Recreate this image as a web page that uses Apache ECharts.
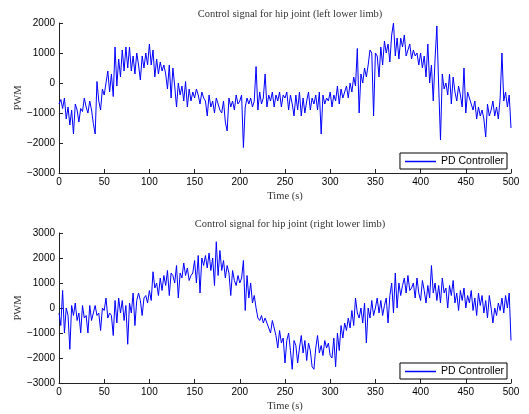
<!DOCTYPE html>
<html>
<head>
<meta charset="utf-8">
<script src="https://cdn.jsdelivr.net/npm/echarts@6/dist/echarts.min.js"></script>
<style>
  html, body { margin: 0; padding: 0; background: #fff; }
  #chart { width: 529px; height: 414px; }
</style>
</head>
<body>
<div id="chart"></div>
<script>
// sample times, every 2 s from 0 to 500
const timeStep = 2;

// left lower limb, hip joint control signal (PWM)
const leftHip = [
  -700, -550, -850, -500, -1200,
  -800, -1400, -900, -1700, -700,
  -900, -1300, -850, -950, -500,
  -800, -1000, -600, -900, -1350,
  -1700, 50, -600, -900, -200,
  -400, 0, 400, -300, 300,
  -450, 1200, -100, 800, 200,
  1100, 400, 1200, 500, 1200,
  400, 900, 300, 1000, 600,
  100, 900, 500, 1000, 600,
  1300, 600, 1100, 200, 800,
  300, 700, 400, 600, 300,
  -200, 600, -500, 500, -100,
  -800, 0, -400, -100, -600,
  50, -800, -200, -600, -300,
  -500, -200, -400, -700, -300,
  -500, -600, -1100, -400, -800,
  -600, -1000, -500, -700, -900,
  -1000, -600, -1300, -1600, -500,
  -800, -600, -900, -400, -700,
  -600, -400, -2150, -800, -500,
  -700, -500, -800, -600, 550,
  -900, -300, -700, -500, 300,
  -800, -400, -600, -300, -800,
  -400, -600, -300, -800, -400,
  -500, -300, -900, -400, -700,
  -1100, -400, -900, -300, -1100,
  -500, -1000, -600, -300, -900,
  -500, -700, -400, -900, -300,
  -1700, -400, -700, -500, -600,
  -300, -800, -400, -600, -100,
  -700, -200, -500, -300, -100,
  -500, 0, -300, 200, -100,
  1150, -1000, 300, 0, 500,
  200, 600, 1100, 1000, -1100,
  1000, 900, 200, 1200, 600,
  1400, 1000, 1300, 700, 1600,
  2000, 900, 1500, 800, 1500,
  1200, 1600, 900, 1100, 1300,
  800, 1100, 900, 1000, 600,
  1000, 500, 900, 200, 1300,
  0, 600, -600, 800, 1900,
  -100, -1900, 300, -200, 0,
  -400, 300, -700, 200, -300,
  -600, -100, -400, -800, 500,
  -1000, -300, -500, -700, -900,
  -600, -1200, -800, -1100, -900,
  -1200, -1800, -700, -1100, -900,
  -600, -1100, -800, -1200, -500,
  1000, -600, -300, -800, -400,
  -1500
];

// right lower limb, hip joint control signal (PWM)
const rightHip = [
  -200, -700, 700, -1000, 0,
  -300, -1650, 100, -300, 200,
  -500, -200, -1000, 100, -400,
  -300, -1000, 100, -500, -200,
  100, -300, -200, -900, 0,
  -100, 400, -400, -200, -300,
  -1100, 300, -600, 400, -200,
  300, -500, 100, -1450, 200,
  -200, 600, -700, 300, 600,
  300, -300, 400, 500, 200,
  700, 300, 1450, 800, 1000,
  500, 1200, 700, 1300, 900,
  1500, 500, 1400, 1300, 1000,
  1700, 400, 1400, 1200, 1800,
  1300, 1600, 1100, 1300, 1400,
  1900, 1000, 2100, 600, 2000,
  1700, 2100, 1600, 2200, 1500,
  2000, 900, 2650, 1300, 2300,
  1500, 1900, 1200, 1700, 1400,
  500, 1500, 1100, 900, 1300,
  1000, 1200, 1900, -100, 1300,
  400, 1000, 200, 500, 0,
  -400, -500, -300, -600, -400,
  -600, -800, -1000, -500, -800,
  -1100, -1600, -900, -1400, -1200,
  -2200, -1300, -1000, -1700, -2450,
  -1300, -1500, -2200, -1600, -1100,
  -1800, -1300, -2100, -1400, -1700,
  -2350, -2450, -1600, -1100, -1800,
  -1500, -1900, -1300, -1600, -1400,
  -1900, -2000, -1200, -2350, -1000,
  -1700, -700, -1200, -600, -900,
  -400, -800, -100, -700, 400,
  -200, -400, 0, -600, 200,
  -1400, 0, -400, 300, -300,
  0, 400, -200, 300, -300,
  100, 400, -600, 500, 1000,
  -200, 1400, 0, 1000, 500,
  900, 1200, 600, 1300, 700,
  800, 1000, 400, 1200, 600,
  300, 1100, 700, 200, 900,
  400, 1700, 600, 1000, 300,
  900, 200, 1200, 600, 800,
  0, 900, 500, 1100, 200,
  600, -100, 700, 300, 800,
  0, 500, 200, 700, -100,
  400, -300, 600, 100, 500,
  -200, 300, -400, 500, 0,
  -600, 0, -300, 200, -100,
  400, -200, 500, 0, 600,
  -1300
];

const titles = ['Control signal for hip joint (left lower limb)', 'Control signal for hip joint (right lower limb)'];
const yLimits = [[-3000, 2000], [-3000, 3000]];

const serif = '"Liberation Serif", "DejaVu Serif", serif';
const sans = '"Liberation Sans", Arial, sans-serif';
const axisColor = '#222';

function toPoints(values) {
  return values.map((v, i) => [i * timeStep, v]);
}

const gridTops = [23, 233];

const myChart = echarts.init(document.getElementById('chart'), null, { renderer: 'canvas' });

const option = {
  backgroundColor: '#fff',
  animation: false,
  title: titles.map((t, i) => ({
    text: t,
    left: 285,
    top: gridTops[i] - 19,
    textAlign: 'center',
    textStyle: { fontFamily: serif, fontSize: 10.5, fontWeight: 'normal', color: '#333' }
  })),
  grid: gridTops.map(top => ({ left: 59, right: 18, top: top, height: 150, outerBoundsMode: 'none' })),
  legend: gridTops.map(top => ({
    data: [{ name: 'PD Controller', icon: 'rect' }],
    right: 22,
    top: top + 130,
    orient: 'horizontal',
    padding: [3, 3, 2, 5],
    itemWidth: 31,
    itemHeight: 1.5,
    itemGap: 0,
    borderColor: '#000',
    borderWidth: 1,
    borderRadius: 0,
    backgroundColor: '#fff',
    selectedMode: false,
    textStyle: { fontFamily: sans, fontSize: 10.5, color: '#000' }
  })),
  xAxis: [0, 1].map(i => ({
    type: 'value',
    gridIndex: i,
    min: 0,
    max: 500,
    interval: 50,
    name: 'Time (s)',
    nameLocation: 'middle',
    nameGap: 18,
    nameTextStyle: { fontFamily: serif, fontSize: 10.5, color: '#333' },
    axisLine: { show: true, onZero: false, lineStyle: { color: axisColor, width: 1 } },
    axisTick: { show: true, inside: true, length: 4, lineStyle: { color: axisColor } },
    axisLabel: { fontFamily: sans, fontSize: 10, color: '#000', margin: 4 },
    splitLine: { show: false }
  })),
  yAxis: [0, 1].map(i => ({
    type: 'value',
    gridIndex: i,
    min: yLimits[i][0],
    max: yLimits[i][1],
    interval: 1000,
    name: 'PWM',
    nameLocation: 'middle',
    nameGap: 35,
    nameMoveOverlap: false,
    nameTextStyle: { fontFamily: serif, fontSize: 10.5, color: '#333' },
    axisLine: { show: true, onZero: false, lineStyle: { color: axisColor, width: 1 } },
    axisTick: { show: true, inside: true, length: 4, lineStyle: { color: axisColor } },
    axisLabel: {
      fontFamily: sans, fontSize: 10, color: '#000', margin: 4,
      formatter: v => String(v).replace('-', '\u2212')
    },
    splitLine: { show: false }
  })),
  series: [leftHip, rightHip].map((vals, i) => ({
    name: 'PD Controller',
    type: 'line',
    xAxisIndex: i,
    yAxisIndex: i,
    data: toPoints(vals),
    symbol: 'none',
    showSymbol: false,
    lineStyle: { color: '#0000ff', width: 1 },
    itemStyle: { color: '#0000ff' }
  }))
};

myChart.setOption(option);
</script>
</body>
</html>
